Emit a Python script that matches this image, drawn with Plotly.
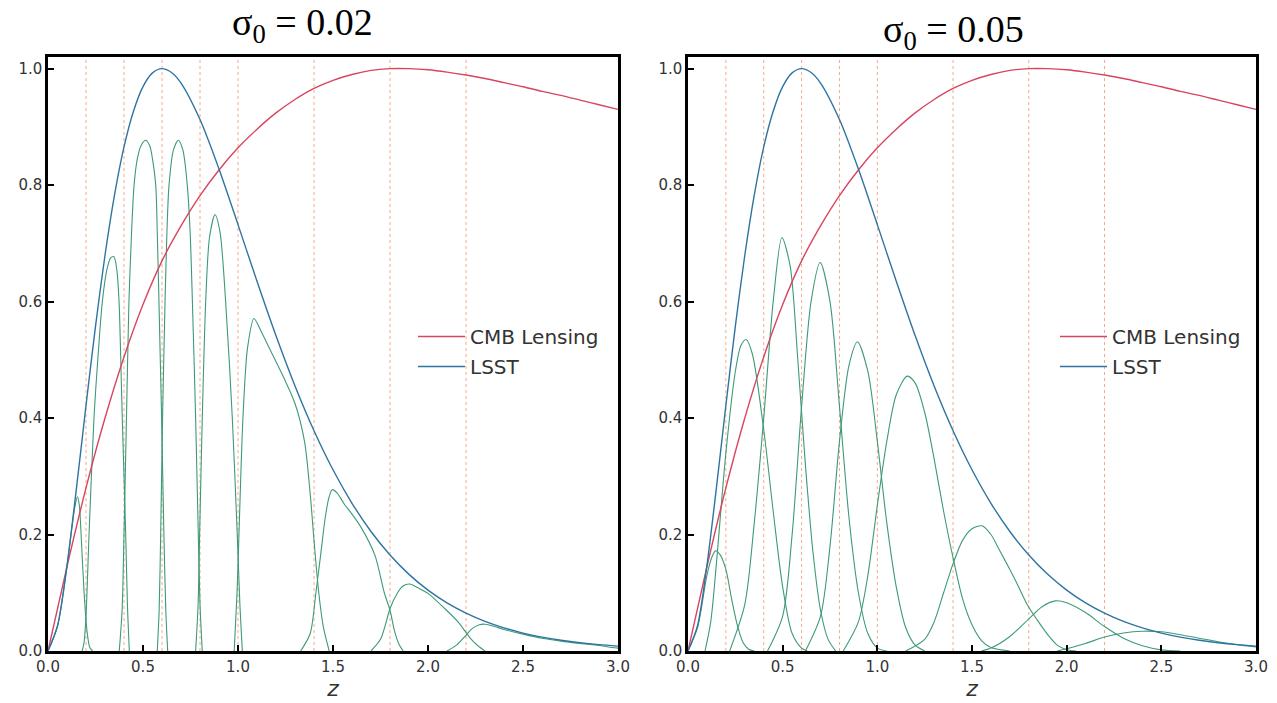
import plotly.graph_objects as go

# ---------------- data ----------------
z_nz = [0, 0.05, 0.1, 0.15, 0.2, 0.25, 0.3, 0.35, 0.4, 0.45, 0.5, 0.55, 0.6, 0.65, 0.7,
        0.8, 0.9, 1.0, 1.1, 1.2, 1.3, 1.4, 1.5, 1.6, 1.7, 1.8, 1.9, 2.0, 2.1, 2.2, 2.3,
        2.4, 2.5, 2.6, 2.7, 2.8, 2.9, 3.0]
lsst_nz = [0, 0.043, 0.147, 0.28, 0.4215, 0.5575, 0.6796, 0.783, 0.8657, 0.927, 0.9692,
           0.9927, 1.0, 0.9934, 0.9753, 0.9127, 0.8277, 0.7322, 0.6349, 0.5413, 0.4552,
           0.3783, 0.3112, 0.2537, 0.2052, 0.1648, 0.1316, 0.1045, 0.0825, 0.0649, 0.0508,
           0.0397, 0.0308, 0.0239, 0.0185, 0.0142, 0.0109, 0.0084]

z_cmb = [0, 0.1, 0.2, 0.3, 0.4, 0.5, 0.6, 0.7, 0.8, 0.9, 1.0, 1.1, 1.2, 1.3, 1.4, 1.5,
         1.6, 1.7, 1.8, 1.9, 2.0, 2.1, 2.2, 2.3, 2.4, 2.5, 2.6, 2.7, 2.8, 2.9, 3.0]
cmb_kernel = [0, 0.145, 0.28, 0.40, 0.505, 0.595, 0.67, 0.73, 0.782, 0.826, 0.864, 0.896,
              0.924, 0.947, 0.966, 0.98, 0.99, 0.997, 1.0, 1.0, 0.998, 0.994, 0.989,
              0.983, 0.976, 0.969, 0.961, 0.954, 0.946, 0.938, 0.93]

bin_edges = [0.2, 0.4, 0.6, 0.8, 1.0, 1.4, 1.8, 2.2]

# tomographic bins, sigma_0 = 0.02
left_bins_z = [
    [0, 0.05, 0.10, 0.125, 0.14, 0.155, 0.165, 0.175, 0.19, 0.205, 0.22, 0.235],
    [0.18, 0.19, 0.20, 0.216, 0.242, 0.262, 0.286, 0.31, 0.33, 0.347, 0.362, 0.374, 0.383, 0.391, 0.40, 0.409, 0.418, 0.428],
    [0.375, 0.39, 0.40, 0.413, 0.426, 0.44, 0.453, 0.47, 0.49, 0.514, 0.535, 0.55, 0.567, 0.575, 0.584, 0.591, 0.598, 0.604, 0.61, 0.62, 0.63],
    [0.575, 0.585, 0.593, 0.603, 0.616, 0.626, 0.637, 0.66, 0.686, 0.71, 0.733, 0.748, 0.76, 0.777, 0.791, 0.80, 0.812],
    [0.777, 0.79, 0.798, 0.812, 0.83, 0.85, 0.879, 0.905, 0.935, 0.97, 0.996, 1.01, 1.023],
    [0.98, 0.995, 1.005, 1.026, 1.05, 1.084, 1.12, 1.18, 1.24, 1.3, 1.35, 1.38, 1.40, 1.425, 1.45, 1.48],
    [1.33, 1.38, 1.41, 1.435, 1.46, 1.48, 1.496, 1.52, 1.56, 1.6, 1.65, 1.72, 1.77, 1.8, 1.825, 1.85, 1.87],
    [1.70, 1.75, 1.78, 1.80, 1.84, 1.87, 1.903, 1.95, 2.0, 2.088, 2.158, 2.193, 2.228, 2.263, 2.30],
    [2.10, 2.15, 2.20, 2.23, 2.27, 2.30, 2.35, 2.4, 2.5, 2.6, 2.7, 2.8, 2.9, 2.95, 3.0],
]
left_bins_v = [
    [0, 0.043, 0.145, 0.21, 0.245, 0.265, 0.25, 0.195, 0.10, 0.035, 0.006, 0],
    [0, 0.015, 0.06, 0.2, 0.4, 0.5, 0.6, 0.655, 0.675, 0.677, 0.655, 0.6, 0.5, 0.4, 0.3, 0.2, 0.08, 0],
    [0, 0.07, 0.2, 0.4, 0.6, 0.72, 0.8, 0.845, 0.868, 0.877, 0.868, 0.845, 0.8, 0.72, 0.6, 0.5, 0.4, 0.3, 0.2, 0.07, 0],
    [0, 0.07, 0.2, 0.4, 0.6, 0.72, 0.8, 0.86, 0.877, 0.86, 0.8, 0.72, 0.6, 0.4, 0.2, 0.08, 0],
    [0, 0.08, 0.2, 0.4, 0.6, 0.71, 0.749, 0.72, 0.6, 0.4, 0.2, 0.08, 0],
    [0, 0.1, 0.2, 0.4, 0.52, 0.571, 0.55, 0.51, 0.47, 0.425, 0.36, 0.27, 0.19, 0.1, 0.04, 0],
    [0, 0.03, 0.1, 0.165, 0.231, 0.265, 0.277, 0.272, 0.252, 0.235, 0.211, 0.165, 0.1, 0.07, 0.033, 0.01, 0],
    [0, 0.02, 0.05, 0.073, 0.1, 0.112, 0.115, 0.108, 0.099, 0.073, 0.05, 0.035, 0.02, 0.009, 0],
    [0, 0.01, 0.027, 0.038, 0.045, 0.046, 0.042, 0.037, 0.029, 0.022, 0.017, 0.013, 0.0095, 0.007, 0.005],
]

# tomographic bins, sigma_0 = 0.05
right_bins_z = [
    [0, 0.05, 0.1, 0.125, 0.145, 0.17, 0.2, 0.23, 0.26, 0.29, 0.32, 0.35],
    [0.09, 0.12, 0.15, 0.2, 0.25, 0.28, 0.307, 0.34, 0.4, 0.45, 0.5, 0.55, 0.6, 0.63],
    [0.22, 0.3, 0.35, 0.4, 0.45, 0.496, 0.54, 0.58, 0.62, 0.66, 0.7, 0.74, 0.78],
    [0.42, 0.5, 0.55, 0.6, 0.65, 0.698, 0.75, 0.8, 0.85, 0.9, 0.95, 1.0, 1.05],
    [0.62, 0.7, 0.75, 0.8, 0.85, 0.895, 0.95, 1.0, 1.05, 1.1, 1.15, 1.2, 1.25],
    [0.82, 0.9, 0.95, 1.0, 1.05, 1.1, 1.158, 1.2, 1.25, 1.3, 1.35, 1.4, 1.45, 1.5, 1.55, 1.6, 1.7],
    [1.15, 1.25, 1.3, 1.35, 1.4, 1.45, 1.5, 1.552, 1.6, 1.647, 1.7, 1.733, 1.793, 1.845, 1.905, 1.95, 2.0, 2.05],
    [1.55, 1.6, 1.7, 1.8, 1.87, 1.94, 2.0, 2.1, 2.2, 2.3, 2.4, 2.5, 2.6],
    [1.95, 2.0, 2.1, 2.2, 2.3, 2.4, 2.5, 2.6, 2.7, 2.8, 2.9, 3.0],
]
right_bins_v = [
    [0, 0.04, 0.13, 0.16, 0.172, 0.165, 0.14, 0.09, 0.045, 0.015, 0.003, 0],
    [0, 0.05, 0.15, 0.34, 0.48, 0.525, 0.535, 0.51, 0.38, 0.24, 0.11, 0.03, 0.005, 0],
    [0, 0.08, 0.22, 0.4, 0.6, 0.71, 0.66, 0.5, 0.32, 0.17, 0.07, 0.02, 0],
    [0, 0.06, 0.2, 0.42, 0.6, 0.667, 0.6, 0.42, 0.23, 0.1, 0.03, 0.005, 0],
    [0, 0.06, 0.18, 0.36, 0.49, 0.531, 0.48, 0.36, 0.22, 0.11, 0.04, 0.01, 0],
    [0, 0.05, 0.13, 0.25, 0.36, 0.44, 0.472, 0.46, 0.41, 0.33, 0.24, 0.16, 0.09, 0.045, 0.018, 0.006, 0],
    [0, 0.02, 0.05, 0.1, 0.15, 0.19, 0.21, 0.215, 0.2, 0.172, 0.14, 0.119, 0.079, 0.053, 0.026, 0.01, 0.002, 0],
    [0, 0.005, 0.025, 0.055, 0.076, 0.086, 0.083, 0.066, 0.042, 0.022, 0.009, 0.002, 0],
    [0, 0.004, 0.013, 0.024, 0.031, 0.034, 0.033, 0.028, 0.022, 0.016, 0.011, 0.007],
]

panel_titles = ["σ<sub>0</sub> = 0.02", "σ<sub>0</sub> = 0.05"]
x_ticks = [0.0, 0.5, 1.0, 1.5, 2.0, 2.5, 3.0]
y_ticks = [0.0, 0.2, 0.4, 0.6, 0.8, 1.0]

# ---------------- styling ----------------
W, H = 1277, 703
RED = "#d8455f"
BLUE = "#2e74a3"
GREEN = "#3d9a78"
EDGE = "rgba(245,140,95,0.75)"
FONT = "DejaVu Sans"

fig = go.Figure()

panels = [(left_bins_z, left_bins_v), (right_bins_z, right_bins_v)]
for p, (bz, bv) in enumerate(panels):
    xa = "x" if p == 0 else "x2"
    ya = "y" if p == 0 else "y2"
    lg = "legend" if p == 0 else "legend2"
    for e in bin_edges:
        fig.add_trace(go.Scatter(x=[e, e], y=[0, 1.02], mode="lines",
                                 line=dict(color=EDGE, width=1, dash="dot"),
                                 xaxis=xa, yaxis=ya, showlegend=False, hoverinfo="skip"))
    for zs, vs in zip(bz, bv):
        fig.add_trace(go.Scatter(x=zs, y=vs, mode="lines",
                                 line=dict(color=GREEN, width=1.1, shape="spline", smoothing=0.8),
                                 xaxis=xa, yaxis=ya, showlegend=False, hoverinfo="skip"))
    fig.add_trace(go.Scatter(x=z_cmb, y=cmb_kernel, mode="lines", name="CMB Lensing",
                             line=dict(color=RED, width=1.4, shape="spline", smoothing=0.8),
                             xaxis=xa, yaxis=ya, legend=lg, legendgroup="cmb" + str(p)))
    fig.add_trace(go.Scatter(x=z_nz, y=lsst_nz, mode="lines", name="LSST",
                             line=dict(color=BLUE, width=1.4, shape="spline", smoothing=0.8),
                             xaxis=xa, yaxis=ya, legend=lg, legendgroup="lsst" + str(p)))

xdom = [[48 / W, 618 / W], [688 / W, 1256 / W]]
ydom = [1 - 651 / H, 1 - 57 / H]

axis_common = dict(showline=True, mirror=True, linecolor="black", linewidth=2.5,
                   ticks="inside", ticklen=6, tickwidth=2, tickcolor="black",
                   showgrid=False, zeroline=False, automargin=False,
                   tickfont=dict(family=FONT, size=15, color="#333333"))

layout = dict(width=W, height=H, plot_bgcolor="white", paper_bgcolor="white",
              margin=dict(l=0, r=0, t=0, b=0, autoexpand=False), font=dict(family=FONT))
for p in range(2):
    sx = "" if p == 0 else "2"
    layout["xaxis" + sx] = dict(axis_common, domain=xdom[p], range=[0, 3.0],
                                tickvals=x_ticks, ticktext=["%.1f" % t for t in x_ticks],
                                anchor="y" + sx,
                                title=dict(text="<i>z</i>", font=dict(family=FONT, size=22, color="#333333"), standoff=2))
    layout["yaxis" + sx] = dict(axis_common, domain=ydom, range=[0, 1.02],
                                tickvals=y_ticks, ticktext=["%.1f" % t for t in y_ticks],
                                anchor="x" + sx)

leg_common = dict(xanchor="left", yanchor="top", bgcolor="rgba(0,0,0,0)", itemwidth=47,
                  font=dict(family=FONT, size=20, color="#333333"), tracegroupgap=1)
layout["legend"] = dict(leg_common, x=413 / W, y=1 - 317 / H)
layout["legend2"] = dict(leg_common, x=1055 / W, y=1 - 317 / H)

title_pos = [(302 / W, 1 - 25 / H), (953 / W, 1 - 32 / H)]
layout["annotations"] = [
    dict(text=panel_titles[p], x=title_pos[p][0], y=title_pos[p][1], xref="paper", yref="paper",
         xanchor="center", yanchor="middle", showarrow=False,
         font=dict(family="Liberation Serif", size=38, color="black"))
    for p in range(2)
]
fig.update_layout(**layout)

fig.write_html("out.html", config={"displayModeBar": False},
               post_script="document.body.style.margin='0';document.body.style.overflow='hidden';")
